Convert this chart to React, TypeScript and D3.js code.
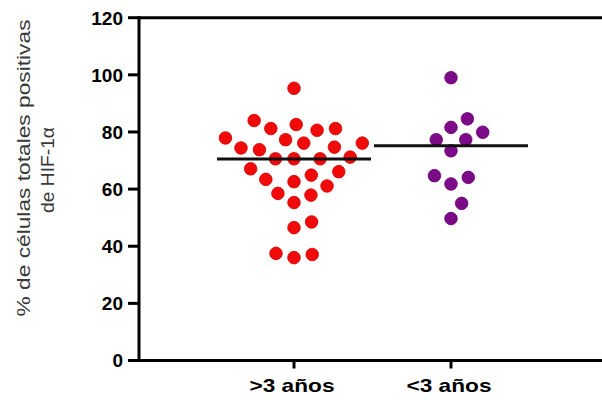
import React from 'react';
import * as d3 from 'd3';

const categories = ['>3 años', '<3 años'];
const valuesOver3 = [
  95.3, 82.6, 81.2, 77.9, 77.3, 80.6, 81.2, 84.0, 76.1, 74.7, 73.8, 74.4, 76.1,
  70.6, 70.6, 70.6, 71.2, 67.1, 66.1, 63.4, 62.6, 64.9, 61.1, 58.5, 57.9, 55.3,
  48.5, 46.5, 37.5, 36.0, 37.1,
];
const valuesUnder3 = [99.0, 84.6, 81.6, 79.9, 77.3, 77.3, 73.4, 64.1, 64.7, 61.8, 55.0, 49.7];
const centerLines = [70.5, 75.2];
const yTicks = [0, 20, 40, 60, 80, 100, 120];
const yLabelLines = ['% de células totales positivas', 'de HIF-1α'];
const groupColors = ['#f00a0a', '#7d0a88'];
const groupStrokes = ['#d40000', '#650070'];

const W = 602;
const H = 400;

type P = { v: number; y: number; x: number };

function swarm(values: number[], yS: (v: number) => number, D: number): P[] {
  const sorted: P[] = values.map((v) => ({ v, y: yS(v), x: 0 })).sort((a, b) => a.v - b.v);
  const placed: P[] = [];
  for (const p of sorted) {
    const cands = [0];
    for (const q of placed) {
      const dy = Math.abs(q.y - p.y);
      if (dy < D) {
        const dx = Math.sqrt(D * D - dy * dy);
        cands.push(q.x + dx, q.x - dx);
      }
    }
    cands.sort((a, b) => Math.abs(a) - Math.abs(b) || b - a);
    for (const c of cands) {
      if (placed.every((q) => (q.x - c) ** 2 + (q.y - p.y) ** 2 >= D * D - 1e-6)) {
        p.x = c;
        break;
      }
    }
    placed.push(p);
  }
  return placed;
}

export default function App() {
  const axisX = 139;
  const y = d3.scaleLinear().domain([0, 120]).range([360.5, 17.7]);
  const x = d3.scaleBand().domain(categories).range([215.5, 529.5]).padding(0);
  const bw = x.bandwidth();
  const groups = [valuesOver3, valuesUnder3];
  const font = "'Liberation Sans', Arial, sans-serif";

  return (
    <svg width={W} height={H} style={{ position: 'absolute', left: 0, top: 0, background: '#fff' }}>
      {/* y label */}
      <g transform={`translate(0, 168) rotate(-90)`} fill="#3a3a3a" fontFamily={font} fontSize={19}>
        <text x={0} y={30} textAnchor="middle" textLength={297} lengthAdjust="spacingAndGlyphs">{yLabelLines[0]}</text>
        <text x={-2} y={54} textAnchor="middle" textLength={86} lengthAdjust="spacingAndGlyphs">{yLabelLines[1]}</text>
      </g>
      {/* y ticks */}
      {yTicks.map((t) => (
        <g key={t}>
          <line x1={128} x2={axisX} y1={y(t)} y2={y(t)} stroke="#000" strokeWidth={3} />
          <text x={123} y={y(t)} dy="0.36em" textAnchor="end" fontFamily={font} fontWeight="bold" fontSize={19}>{t}</text>
        </g>
      ))}
      {/* axes */}
      <line x1={axisX} x2={axisX} y1={y(120) - 1.5} y2={y(0) + 1.5} stroke="#000" strokeWidth={3} />
      <line x1={axisX} x2={W} y1={y(0)} y2={y(0)} stroke="#000" strokeWidth={3} />
      <line x1={axisX} x2={W} y1={y(120)} y2={y(120)} stroke="#000" strokeWidth={3} />
      {categories.map((c) => {
        const cx = (x(c) as number) + bw / 2;
        return (
          <g key={c}>
            <line x1={cx} x2={cx} y1={y(0)} y2={y(0) + 8} stroke="#000" strokeWidth={3} />
            <text x={cx - 2} y={392} textAnchor="middle" fontFamily={font} fontWeight="bold" fontSize={19} textLength={85} lengthAdjust="spacingAndGlyphs">{c}</text>
          </g>
        );
      })}
      {/* dots */}
      {groups.map((vals, gi) => {
        const cx = (x(categories[gi]) as number) + bw / 2;
        const pts = swarm(vals, (v) => y(v), 18.5);
        return (
          <g key={gi}>
            {pts.map((p, i) => (
              <circle key={i} cx={cx + p.x} cy={p.y} r={6.3} fill={groupColors[gi]} stroke={groupStrokes[gi]} strokeWidth={0.8} />
            ))}
          </g>
        );
      })}
      {/* center lines */}
      {categories.map((c, gi) => (
        <line key={c} x1={(x(c) as number) + 1.5} x2={(x(c) as number) + bw - 1.5} y1={y(centerLines[gi])} y2={y(centerLines[gi])} stroke="#111" strokeWidth={3} />
      ))}
    </svg>
  );
}
